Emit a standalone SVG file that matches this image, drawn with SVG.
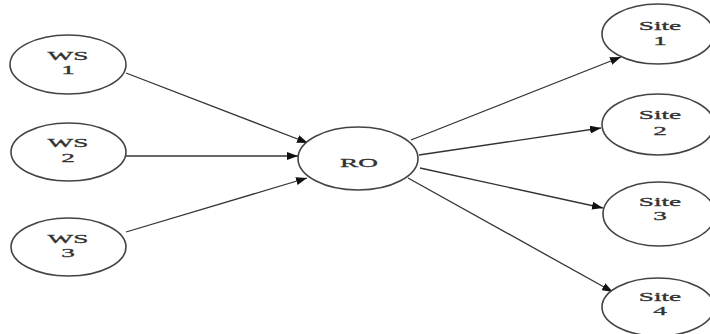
<svg xmlns="http://www.w3.org/2000/svg" width="710" height="334" viewBox="0 0 710 334">
<style>
.n ellipse{fill:#fff;stroke:#444;stroke-width:1.6}
.n text{font-family:"Liberation Serif","Times New Roman",serif;font-size:13px;fill:#333;text-anchor:middle;stroke:#333;stroke-width:0.3}
.e line{stroke:#333;stroke-width:1.3;marker-end:url(#ah)}
</style>
<defs>
<marker id="ah" markerUnits="userSpaceOnUse" markerWidth="12" markerHeight="8" refX="11" refY="4" orient="auto">
<path d="M0,0 L11,4 L0,8 Z" fill="#111"/>
</marker>
</defs>
<rect width="710" height="334" fill="#fff"/>
<g id="edges" class="e">
<line x1="126" y1="73" x2="308" y2="143"/>
<line x1="126" y1="156" x2="298" y2="156"/>
<line x1="126" y1="232" x2="307" y2="178"/>
<line x1="411" y1="140" x2="621" y2="57"/>
<line x1="419" y1="155" x2="601" y2="128"/>
<line x1="420" y1="168" x2="603" y2="208"/>
<line x1="408" y1="178" x2="613" y2="292"/>
</g>
<g id="ws1" class="n"><ellipse cx="68" cy="64.5" rx="58" ry="29.5"/>
<text transform="translate(68,60) scale(2.1,1)">WS</text><text transform="translate(68,74) scale(2.1,1)">1</text></g>
<g id="ws2" class="n"><ellipse cx="68.5" cy="152" rx="57.5" ry="29"/>
<text transform="translate(68,147) scale(2.1,1)">WS</text><text transform="translate(68,162) scale(2.1,1)">2</text></g>
<g id="ws3" class="n"><ellipse cx="68.5" cy="247" rx="57.5" ry="29"/>
<text transform="translate(68,243) scale(2.1,1)">WS</text><text transform="translate(68,257) scale(2.1,1)">3</text></g>
<g id="ro" class="n"><ellipse cx="358" cy="158.5" rx="60" ry="31.5"/>
<text transform="translate(359,167) scale(2.1,1)">RO</text></g>
<g id="site1" class="n"><ellipse cx="658" cy="34" rx="56" ry="30"/>
<text transform="translate(660,30) scale(2.1,1)">Site</text><text transform="translate(660,45) scale(2.1,1)">1</text></g>
<g id="site2" class="n"><ellipse cx="658" cy="124.5" rx="56" ry="30.5"/>
<text transform="translate(660,119) scale(2.1,1)">Site</text><text transform="translate(660,135) scale(2.1,1)">2</text></g>
<g id="site3" class="n"><ellipse cx="659" cy="214" rx="56" ry="32"/>
<text transform="translate(660,206) scale(2.1,1)">Site</text><text transform="translate(660,220) scale(2.1,1)">3</text></g>
<g id="site4" class="n"><ellipse cx="658" cy="307" rx="56" ry="29"/>
<text transform="translate(660,301) scale(2.1,1)">Site</text><text transform="translate(660,315) scale(2.1,1)">4</text></g>
</svg>
